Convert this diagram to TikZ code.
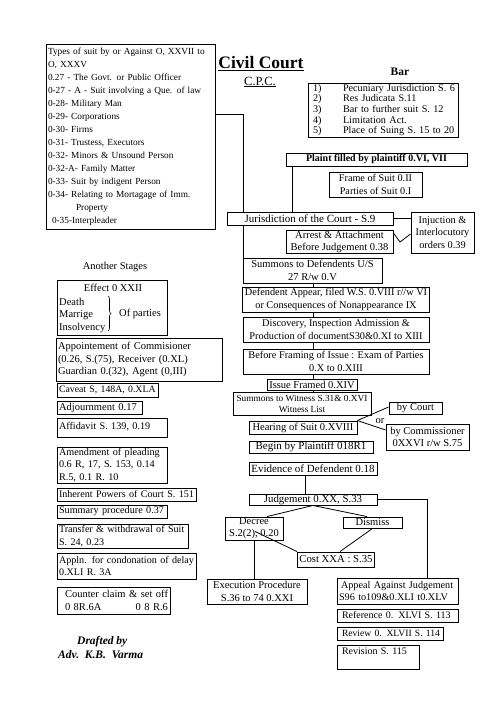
\documentclass[tikz,border=0pt]{standalone}
\usepackage{fontspec}
\setmainfont{Liberation Serif}
\usetikzlibrary{decorations.pathreplacing,calc}
\newcommand\drawbox[7][]{%
  \pgfmathsetmacro\bxw{#5-#3-4}%
  \pgfmathsetmacro\bxW{#5-#3}%
  \pgfmathsetmacro\bxh{#6-#4}%
  \pgfmathsetmacro\bxcx{(#3+#5)/2}%
  \pgfmathsetmacro\bxcy{(#4+#6)/2}%
  \node[box,minimum width=\bxW pt,minimum height=\bxh pt,#1] (#2) at (\bxcx,\bxcy) {#7};}
\newcommand\fs[2]{\fontsize{#1}{#2}\selectfont}
\begin{document}
\begin{tikzpicture}[x=1pt,y=-1pt,
  box/.style={draw,line width=0.9pt,inner xsep=2pt,inner ysep=0pt,align=center,font=\fs{10.2}{12.5}},
  lft/.style={text width=\bxw pt,align=left},
  conn/.style={line width=0.8pt},
  lbl/.style={inner sep=0pt,font=\fs{10.5}{12.5}}]
\useasboundingbox (0,0) rectangle (496,701);

% ---------- titles ----------
\node[lbl,font=\fs{17.5}{20}\bfseries] (title) at (261,64) {\underline{Civil Court}};
\node[lbl,font=\fs{12.5}{14}] (cpc) at (260,82) {\underline{C.P.C.}};
\node[lbl,font=\fs{11.5}{13}\bfseries] (bartitle) at (400,72) {Bar};

% ---------- left top box ----------
\drawbox[lft,font=\fs{9.3}{13},inner xsep=1.5pt]{types}{46}{44}{215}{229}{%
\mbox{Types of suit by or Against O, XXVII to}\\
\mbox{O, XXXV}\\
\mbox{0.27 - The Govt. or Public Officer}\\
\mbox{0-27 - A - Suit involving a Que. of law}\\
\mbox{0-28- Military Man}\\
\mbox{0-29- Corporations}\\
\mbox{0-30- Firms}\\
\mbox{0-31- Trustess, Executors}\\
\mbox{0-32- Minors \& Unsound Person}\\
\mbox{0-32-A- Family Matter}\\
\mbox{0-33- Suit by indigent Person}\\
\mbox{0-34- Relating to Mortagage of Imm.}\\
\mbox{\hspace*{28pt}Property}\\
\mbox{\hspace*{4pt}0-35-Interpleader}}

% ---------- Bar box ----------
\drawbox[lft,font=\fs{10.2}{10.6}]{bar}{308}{83}{458}{137}{%
\mbox{\makebox[33pt][l]{\hspace*{3pt}1)}Pecuniary Jurisdiction S. 6}\\
\mbox{\makebox[33pt][l]{\hspace*{3pt}2)}Res Judicata S.11}\\
\mbox{\makebox[33pt][l]{\hspace*{3pt}3)}Bar to further suit S. 12}\\
\mbox{\makebox[33pt][l]{\hspace*{3pt}4)}Limitation Act.}\\
\mbox{\makebox[33pt][l]{\hspace*{3pt}5)}Place of Suing S. 15 to 20}}

% ---------- central column ----------
\drawbox[font=\fs{10}{12}\bfseries]{plaint}{286}{153}{467}{166}{Plaint filled by plaintiff 0.VI, VII}
\drawbox{frame}{329}{172}{422}{197}{Frame of Suit 0.II\\Parties of Suit 0.I}
\drawbox[font=\fs{11}{13}]{jur}{227}{212}{393}{225}{Jurisdiction of the Court - S.9}
\drawbox[font=\fs{10.3}{12.5}]{inj}{411}{212}{474}{253}{Injuction \&\\Interlocutory\\orders 0.39}
\drawbox[font=\fs{10.5}{12}]{arrest}{286}{230}{393}{253}{Arrest \& Attachment\\Before Judgement 0.38}
\drawbox[font=\fs{10.5}{12.5}]{summ}{243}{258}{382}{283}{Summons to Defendents U/S\\27 R/w 0.V}
\drawbox[font=\fs{10.3}{12.5}]{def}{243}{287}{429}{312}{Defendent Appear, filed W.S. 0.VIII r//w VI\\or Consequences of Nonappearance IX}
\drawbox[font=\fs{10.3}{12.5}]{disc}{243}{317}{429}{342}{Discovery, Inspection Admission \&\\Production of documentS30\&0.XI to XIII}
\drawbox[font=\fs{10.3}{12.5}]{bfr}{243}{349}{429}{374}{Before Framing of Issue : Exam of Parties\\0.X to 0.XIII}
\drawbox[font=\fs{10.5}{12}]{issue}{267}{379}{357}{390}{Issue Framed 0.XIV}
\drawbox[font=\fs{9.3}{11}]{wit}{233}{392}{371}{415}{Summons to Witness S.31\& 0.XVI\\Witness List}
\drawbox[font=\fs{10.5}{12}]{bycourt}{389}{402}{442}{414}{by Court}
\drawbox[font=\fs{10.5}{12.5}]{bycomm}{386}{424}{469}{450}{by Commissioner\\0XXVI r/w S.75}
\drawbox[font=\fs{10.5}{12}]{hear}{249}{421}{357}{434}{Hearing of Suit 0.XVIII}
\drawbox[font=\fs{11}{12}]{begin}{249}{441}{373}{453}{Begin by Plaintiff 018R1}
\drawbox[font=\fs{11}{12}]{evid}{249}{462}{377}{475}{Evidence of Defendent 0.18}
\drawbox[font=\fs{10.8}{12}]{judg}{249}{494}{377}{505}{Judgement 0.XX, S.33}
\drawbox[font=\fs{10.5}{12}]{decree}{225}{517}{283}{540}{Decree\\S.2(2), 0.20}
\drawbox[font=\fs{10.5}{12}]{dismiss}{343}{517}{402}{528}{Dismiss}
\drawbox[font=\fs{10.7}{12}]{cost}{298}{552}{374}{567}{Cost XXA : S.35}
\drawbox[font=\fs{10.5}{12.5}]{exec}{207}{579}{307}{604}{Execution Procedure\\S.36 to 74 0.XXI}
\drawbox[lft]{appeal}{337}{578}{458}{604}{\mbox{\hspace*{2pt}Appeal Against Judgement}\\\mbox{S96 to109\&0.XLI t0.XLV}}
\drawbox[lft,font=\fs{10}{12}]{refr}{337}{609}{458}{622}{\mbox{\hspace*{3pt}Reference 0. XLVI S. 113}}
\drawbox[lft,font=\fs{9.6}{12}]{review}{337}{627}{443}{640}{\mbox{\hspace*{3pt}Review 0. XLVII S. 114}}
\drawbox[lft,font=\fs{10}{12.5}]{revision}{337}{645}{419}{669}{\mbox{\hspace*{3pt}Revision S. 115}\\\mbox{}}

% ---------- left column ----------
\node[lbl] (another) at (115,267) {Another Stages};
\drawbox{effect}{57}{280}{167}{335}{}
\node[lbl] (efft) at (113,288) {Effect 0 XXII};
\node[lbl,anchor=west,align=left] (effl) at (59,315) {Death\\Marrige\\Insolvency};
\draw[decorate,decoration={brace,amplitude=3pt},line width=0.6pt] (108,296) -- (108,331);
\node[lbl,anchor=west] (effr) at (119,314) {Of parties};
\drawbox[lft,font=\fs{10.5}{12.8}]{appoint}{56}{338}{222}{381}{\mbox{Appointement of Commisioner}\\\mbox{(0.26, S.(75), Receiver (0.XL)}\\\mbox{Guardian 0.(32), Agent (0,III)}}
\drawbox[lft,font=\fs{9.8}{12}]{caveat}{57}{383}{158}{397}{\mbox{Caveat S, 148A, 0.XLA}}
\drawbox[lft,font=\fs{10.5}{12}]{adjourn}{57}{401}{142}{414}{\mbox{Adjournment 0.17}}
\drawbox[lft]{affid}{57}{418}{167}{437}{\mbox{\raisebox{3pt}{Affidavit S. 139, 0.19}}}
\drawbox[lft,font=\fs{10.2}{12.5}]{amend}{57}{447}{167}{483}{\mbox{Amendment of pleading}\\\mbox{0.6 R, 17, S. 153, 0.14}\\\mbox{R.5, 0.1 R. 10}}
\drawbox[lft,font=\fs{10.1}{12}]{inher}{57}{488}{196}{501}{\mbox{Inherent Powers of Court S. 151}}
\drawbox[lft]{summary}{57}{505}{167}{518}{\mbox{Summary procedure 0.37}}
\drawbox[lft,font=\fs{10.1}{12.5}]{transfer}{57}{524}{188}{548}{\mbox{Transfer \& withdrawal of Suit}\\\mbox{S. 24, 0.23}}
\drawbox[lft,font=\fs{10.1}{12.5}]{appln}{57}{553}{196}{579}{\mbox{Appln. for condonation of delay}\\\mbox{0.XLI R. 3A}}
\drawbox[lft,font=\fs{10.5}{13}]{counter}{57}{587}{170}{614}{\mbox{\hspace*{6pt}Counter claim \& set off}\\\mbox{\hspace*{6pt}0 8R.6A}\hfill\mbox{0 8 R.6}}

\node[lbl,anchor=west,font=\fs{11.5}{13}\bfseries\itshape] (drafted) at (77,642) {Drafted by};
\node[lbl,anchor=west,font=\fs{11.5}{13}\bfseries\itshape] (author) at (58,655) {Adv.\ \ K.B.\ \ Varma};

% ---------- connectors ----------
\coordinate (cL) at (243,114);
\draw[conn] (types.east |- cL) -- (cL) -- (cL |- jur.north);
\draw[conn] (cL |- jur.south) -- (cL |- summ.north);
\coordinate (cP) at (292,0);
\draw[conn] (cP |- plaint.south) -- (cP |- jur.north);
\draw[conn] (jur.east) -- (jur.east -| inj.west);
\coordinate (vA) at (0,233);
\coordinate (vB) at (400,242);
\coordinate (vC) at (0,234);
\draw[conn] (arrest.east |- vA) -- (vB) -- (inj.west |- vC);
\coordinate (cM) at (313,0);
\foreach \a/\b in {summ/def,def/disc,disc/bfr,bfr/issue,issue/wit}
  \draw[conn] (cM |- \a.south) -- (cM |- \b.north);
\coordinate (hA) at (0,407);
\coordinate (hB) at (0,430);
\draw[conn] (hear.north east) -- (bycourt.west |- hA);
\draw[conn] (hear.north east) -- (bycomm.west |- hB);
\node[lbl] (ortxt) at (380,421) {or};
\coordinate (cE) at (305,0);
\draw[conn] (cE |- evid.south) -- (cE |- judg.north);
\coordinate (cJ) at (427,0);
\draw[conn] (judg.east) -| (cJ |- appeal.north);
\coordinate (jd) at (267,0);
\coordinate (jm) at (367,0);
\draw[conn] (judg.south) -- (jd |- decree.north);
\draw[conn] (judg.south) -- (jm |- dismiss.north);
\draw[conn] ([xshift=1pt,yshift=9pt]decree.south) -- (cost.north west);
\draw[conn] (dismiss.south) -- ([xshift=4pt]cost.north);
\draw[conn] (decree.south) -- (decree.south |- exec.north);
\end{tikzpicture}
\end{document}
